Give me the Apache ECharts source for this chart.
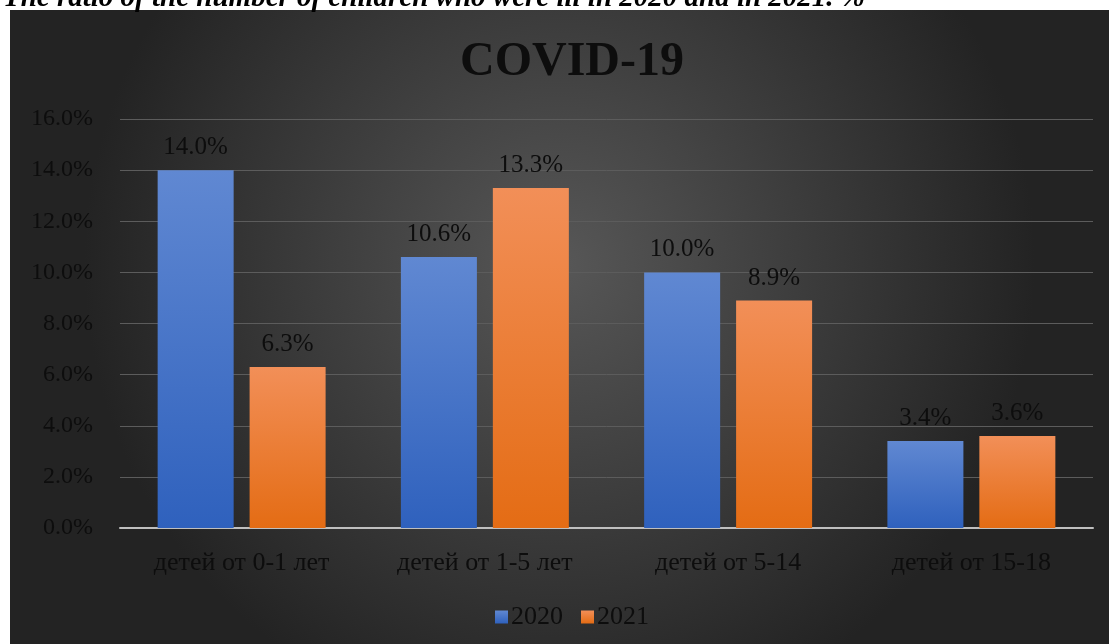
<!DOCTYPE html>
<html>
<head>
<meta charset="utf-8">
<script src="https://cdn.jsdelivr.net/npm/echarts@6/dist/echarts.min.js"></script>
<style>
  html, body { margin: 0; padding: 0; background: #fff; }
  #chart { width: 1109px; height: 644px; }
</style>
</head>
<body>
<div id="chart"></div>
<script>
var categories = ['детей от 0-1 лет', 'детей от 1-5 лет', 'детей от 5-14', 'детей от 15-18'];
var values2020 = [14.0, 10.6, 10.0, 3.4];
var values2021 = [6.3, 13.3, 8.9, 3.6];
var yTicks = [0, 2, 4, 6, 8, 10, 12, 14, 16];

var serif = "'Liberation Serif', 'Times New Roman', serif";
var chart = echarts.init(document.getElementById('chart'));

function grad(top, bottom) {
    return new echarts.graphic.LinearGradient(0, 0, 0, 1, [
        { offset: 0, color: top },
        { offset: 1, color: bottom }
    ]);
}

function pct(p) { return p.value.toFixed(1) + '%'; }

var option = {
    backgroundColor: '#ffffff',
    animation: false,
    graphic: [
        {
            type: 'rect',
            z: -10,
            silent: true,
            shape: { x: 10, y: 10, width: 1099, height: 634 },
            style: {
                fill: new echarts.graphic.RadialGradient(0.5, 0.4, 0.75, [
                    { offset: 0, color: '#575757' },
                    { offset: 1, color: '#232323' }
                ])
            }
        },
        {
            type: 'text',
            x: 3,
            y: -1,
            style: {
                text: 'The ratio of the number of children who were ill in 2020 and in 2021. %',
                font: 'italic bold 29px ' + serif,
                fill: '#000',
                verticalAlign: 'middle'
            }
        }
    ],
    title: {
        text: 'COVID-19',
        left: 567,
        top: 34,
        textAlign: 'center',
        textStyle: { fontFamily: serif, fontSize: 48, fontWeight: 'bold', color: '#0d0d0d' }
    },
    legend: {
        data: ['2020', '2021'],
        bottom: 9,
        left: 490,
        itemWidth: 13,
        itemHeight: 13,
        itemGap: 18,
        icon: 'rect',
        textStyle: { fontFamily: serif, fontSize: 26, color: '#0d0d0d', padding: [0, 0, 0, -2] }
    },
    grid: { left: 120, right: 16, top: 119, bottom: 116 },
    xAxis: {
        type: 'category',
        data: categories,
        axisLine: { lineStyle: { color: '#bfbfbf', width: 2 } },
        axisTick: { show: false },
        axisLabel: { fontFamily: serif, fontSize: 26, color: '#0d0d0d', margin: 22 }
    },
    yAxis: {
        type: 'value',
        min: yTicks[0],
        max: yTicks[yTicks.length - 1],
        interval: 2,
        axisLine: { show: false },
        axisTick: { show: false },
        splitLine: { lineStyle: { color: '#5c5c5c', width: 1 } },
        axisLabel: {
            fontFamily: serif, fontSize: 24, color: '#0d0d0d', margin: 27,
            formatter: function (v) { return v.toFixed(1) + '%'; }
        }
    },
    series: [
        {
            name: '2020',
            type: 'bar',
            data: values2020,
            barWidth: 76,
            barGap: '21%',
            itemStyle: { color: grad('#6088d2', '#2f61bd') },
            label: {
                show: true, position: 'top', distance: 10,
                fontFamily: serif, fontSize: 25, color: '#0d0d0d',
                formatter: pct
            }
        },
        {
            name: '2021',
            type: 'bar',
            data: values2021,
            barWidth: 76,
            itemStyle: { color: grad('#f28f58', '#e46c14') },
            label: {
                show: true, position: 'top', distance: 10,
                fontFamily: serif, fontSize: 25, color: '#0d0d0d',
                formatter: pct
            }
        }
    ]
};

chart.setOption(option);
window.addEventListener('resize', chart.resize);
</script>
</body>
</html>
